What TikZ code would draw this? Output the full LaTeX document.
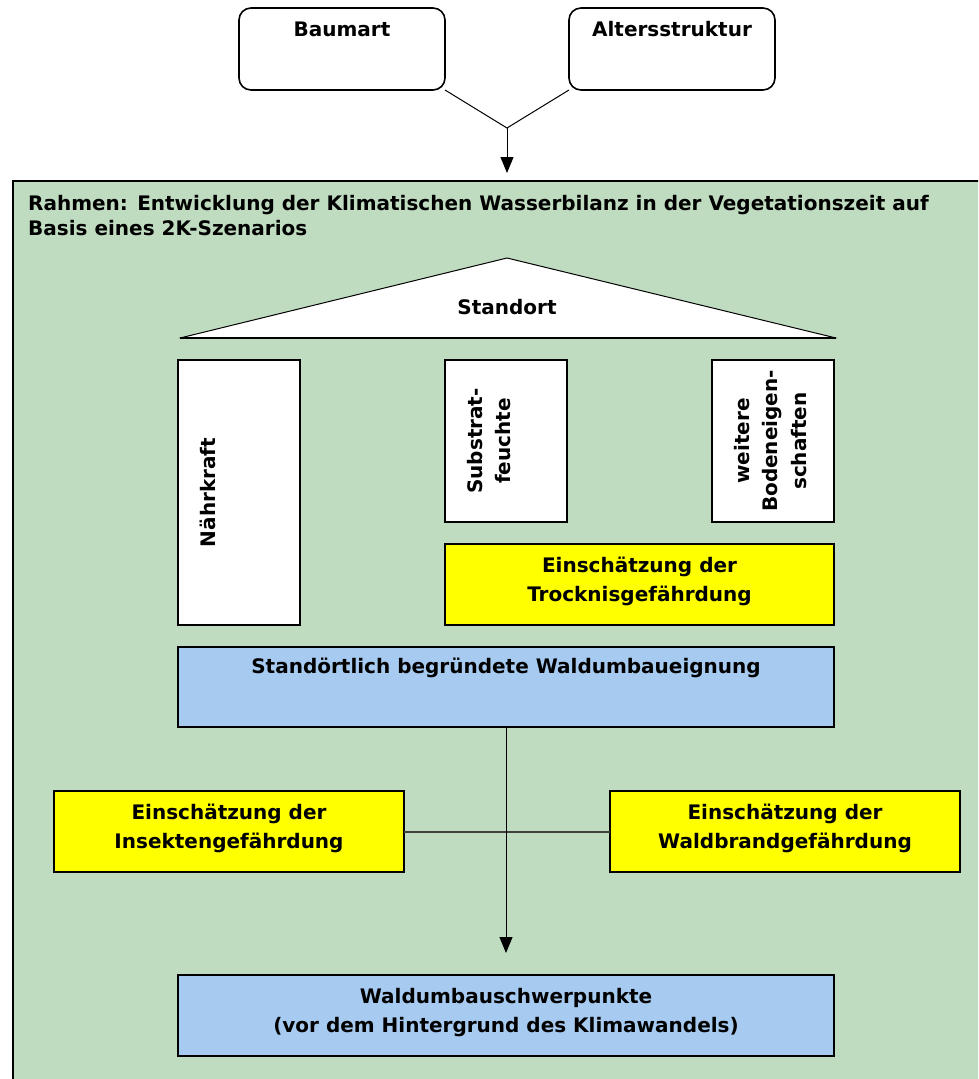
\documentclass[tikz,border=0pt]{standalone}
\usepackage{fontspec}
\setmainfont{DejaVu Sans}
\usetikzlibrary{arrows.meta,calc}
\definecolor{frameg}{RGB}{192,220,192}
\definecolor{boxblue}{RGB}{166,202,240}
\definecolor{boxyellow}{RGB}{255,255,0}
\begin{document}
\begin{tikzpicture}[x=1pt,y=-1pt,
  box/.style={draw=black, line width=1.6pt, inner sep=0pt, outer sep=0pt, anchor=north west},
  rbox/.style={box, fill=white, rounded corners=12pt},
  wbox/.style={box, fill=white},
  ybox/.style={box, fill=boxyellow},
  bbox/.style={box, fill=boxblue},
  txt/.style={font=\bfseries\fontsize{20}{28.5}\selectfont, align=center, inner sep=0pt},
  conn/.style={draw=black, line width=1pt},
  arr/.style={conn, -{Triangle[width=13pt,length=16pt]}},
]
\useasboundingbox (0,0) rectangle (978,1079);
\clip (0,0) rectangle (978,1079);
\fill[white] (0,0) rectangle (978,1079);
% top boxes
\node[rbox, minimum width=206pt, minimum height=82pt] (baum) at (239,8) {};
\node[rbox, minimum width=206pt, minimum height=82pt] (alter) at (569,8) {};
\node[txt] (baumt) at ($(baum.north)+(0,21)$) {Baumart};
\node[txt] (altert) at ($(alter.north)+(0,21)$) {Altersstruktur};
\coordinate (j) at (507,128);
% frame
\node[box, fill=frameg, minimum width=1000pt, minimum height=1000pt] (frame) at (13,181) {};
\draw[conn] (baum.south east) -- (j) -- (alter.south west);
\draw[arr] (j) -- ($(j |- frame.north)+(0,-8)$);
\node[txt, font=\bfseries\fontsize{20}{25}\selectfont, align=left, anchor=west] (title) at (28,216)
  {Rahmen: Entwicklung der Klimatischen Wasserbilanz in der Vegetationszeit auf\\Basis eines 2K-Szenarios};
% triangle
\coordinate (tl) at (180,338);
\coordinate (ta) at (507,258);
\coordinate (tr) at (836,338);
\draw[fill=white, line width=1pt, line join=round] (tl) -- (ta) -- (tr) -- cycle;
\draw[line width=2pt] (tl) -- (tr);
\node[txt] (standort) at (507,307) {Standort};
% columns
\node[wbox, minimum width=122pt, minimum height=265pt] (nahr) at (178,360) {};
\node[wbox, minimum width=122pt, minimum height=162pt] (subst) at (445,360) {};
\node[wbox, minimum width=122pt, minimum height=162pt] (weit) at (712,360) {};
\node[txt, rotate=90, anchor=north] (nahrt) at ($(nahr.west)+(22,0)$) {Nährkraft};
\node[txt, rotate=90, anchor=north] (substt) at ($(subst.west)+(22,0)$) {Substrat-\\feuchte};
\node[txt, rotate=90, anchor=north] (weitt) at ($(weit.west)+(22,0)$) {weitere\\Bodeneigen-\\schaften};
\node[ybox, minimum width=389pt, minimum height=81pt] (trock) at (445,544) {};
\node[txt] (trockt) at ($(trock.center)+(0,-3)$) {Einschätzung der\\Trocknisgefährdung};
% blue middle
\node[bbox, minimum width=656pt, minimum height=80pt] (stand) at (178,647) {};
\node[txt] (standt) at ($(stand.north)+(0,21)$) {Standörtlich begründete Waldumbaueignung};
% side boxes
\node[ybox, minimum width=350pt, minimum height=81pt] (insekt) at (54,791) {};
\node[ybox, minimum width=350pt, minimum height=81pt] (wald) at (610,791) {};
\node[txt] (insektt) at ($(insekt.center)+(0,-3)$) {Einschätzung der\\Insektengefährdung};
\node[txt] (waldt) at ($(wald.center)+(0,-3)$) {Einschätzung der\\Waldbrandgefährdung};
\draw[draw=black!75, line width=2pt] (insekt.east) -- (wald.west);
% bottom
\node[bbox, minimum width=656pt, minimum height=81pt] (schwer) at (178,975) {};
\node[txt] (schwert) at ($(schwer.center)+(0,-3)$) {Waldumbauschwerpunkte\\(vor dem Hintergrund des Klimawandels)};
\draw[arr, shorten >=22pt] (stand.south) -- (schwer.north);
\end{tikzpicture}
\end{document}
